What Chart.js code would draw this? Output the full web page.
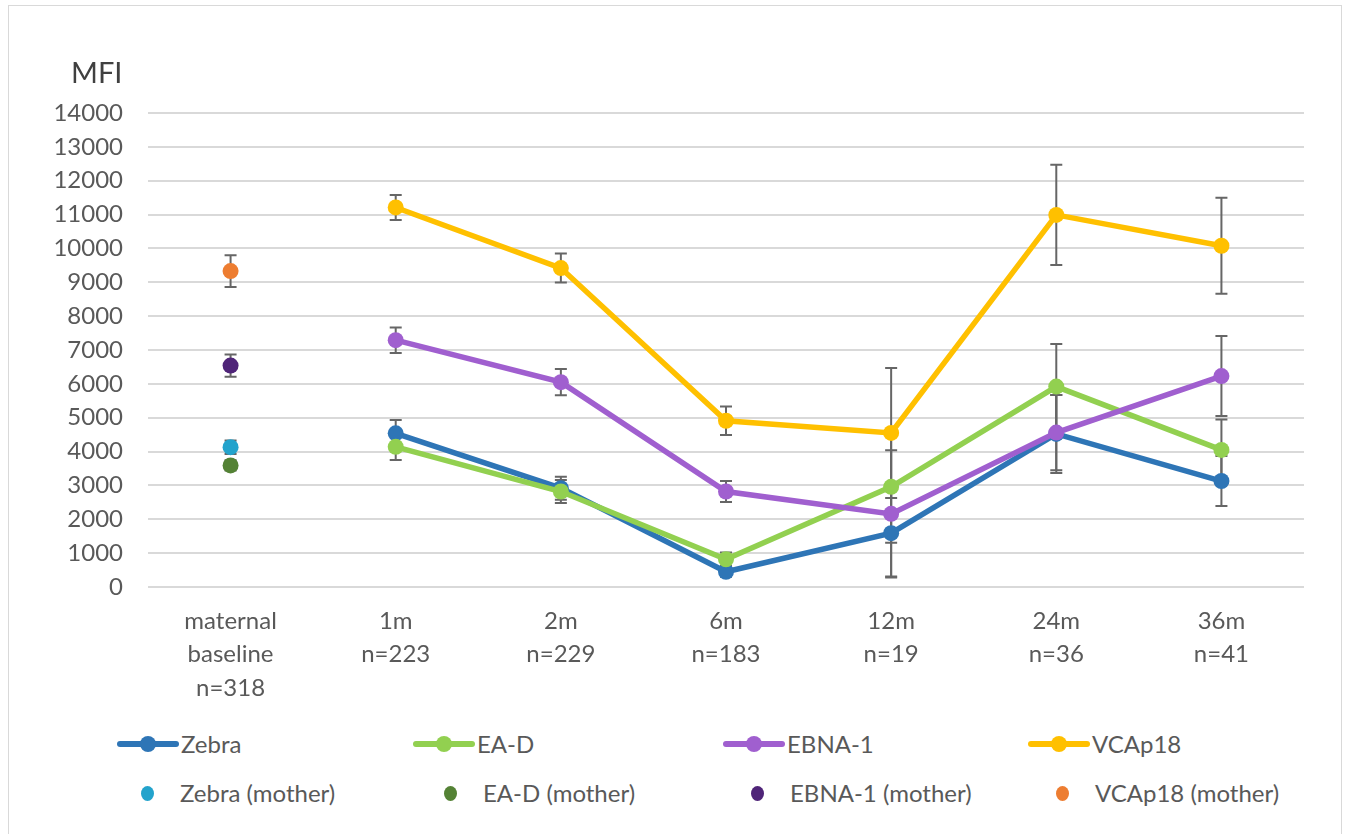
<!DOCTYPE html>
<html>
<head>
<meta charset="utf-8">
<script src="https://cdn.jsdelivr.net/npm/chart.js@4.4.1/dist/chart.umd.min.js"></script>
<style>
  body { margin: 0; background: #fff; font-family: Lato, "Open Sans", sans-serif; }
  .frame { position: absolute; left: 8px; top: 5px; width: 1332px; height: 840px; border: 1px solid #d9d9d9; }
  #chart { position: absolute; left: 0; top: 0; }
  .ytitle { position: absolute; left: 71px; top: 54px; font-size: 29px; color: #404040; }
  .legend { position: absolute; color: #595959; font-size: 24px; }
  .item { position: absolute; white-space: nowrap; height: 30px; line-height: 30px; }
  .sw-line { position: absolute; top: 12px; height: 6px; width: 62px; border-radius: 3px; }
  .sw-line i { position: absolute; left: 23px; top: -5px; width: 16px; height: 16px; border-radius: 50%; background: inherit; }
  .sw-dot { position: absolute; top: 8px; width: 13px; height: 15px; border-radius: 50%; }
</style>
</head>
<body>
<div class="frame"></div>
<canvas id="chart" width="1346" height="720"></canvas>
<div class="ytitle">MFI</div>
<div class="legend" id="legend"></div>
<script>
// categories / x labels
var categories = [
  ['maternal', 'baseline', 'n=318'],
  ['1m', 'n=223'],
  ['2m', 'n=229'],
  ['6m', 'n=183'],
  ['12m', 'n=19'],
  ['24m', 'n=36'],
  ['36m', 'n=41']
];

// children series
var zebra     = [null, 4540, 2920, 450, 1590, 4520, 3130];
var zebraErr  = [null, 390, 340, 150, 1280, 1150, 740];
var eaD       = [null, 4140, 2820, 820, 2960, 5920, 4050];
var eaDErr    = [null, 390, 340, 200, 1650, 1260, 900];
var ebna      = [null, 7290, 6050, 2820, 2160, 4560, 6230];
var ebnaErr   = [null, 375, 390, 310, 1880, 1110, 1180];
var vca       = [null, 11210, 9420, 4910, 4550, 10990, 10080];
var vcaErr    = [null, 370, 430, 420, 1920, 1480, 1420];

// mothers (only at maternal baseline)
var zebraM    = [4130, null, null, null, null, null, null];
var zebraMErr = [200];
var eaDM      = [3590, null, null, null, null, null, null];
var eaDMErr   = [150];
var ebnaM     = [6540, null, null, null, null, null, null];
var ebnaMErr  = [330];
var vcaM      = [9330, null, null, null, null, null, null];
var vcaMErr   = [470];

var yTicks = { min: 0, max: 14000, step: 1000 };

function lineSet(label, data, err, color, order) {
  return {
    label: label, data: data, err: err, order: order,
    borderColor: color, backgroundColor: color,
    borderWidth: 5.5, pointRadius: 8, pointBorderWidth: 0,
    pointBackgroundColor: color, tension: 0, spanGaps: false
  };
}
function dotSet(label, data, err, color) {
  return {
    label: label, data: data, err: err, order: 0, showLine: false,
    borderColor: color, backgroundColor: color,
    pointRadius: 8, pointBorderWidth: 0, pointBackgroundColor: color
  };
}

var errorBars = {
  id: 'errorBars',
  beforeDatasetsDraw: function(chart) {
    var ctx = chart.ctx;
    var y = chart.scales.y;
    ctx.save();
    ctx.strokeStyle = '#666666';
    ctx.lineWidth = 2;
    chart.data.datasets.forEach(function(ds, i) {
      var meta = chart.getDatasetMeta(i);
      ds.data.forEach(function(v, j) {
        if (v == null || ds.err[j] == null) return;
        var x = meta.data[j].x;
        var top = y.getPixelForValue(v + ds.err[j]);
        var bot = y.getPixelForValue(v - ds.err[j]);
        ctx.beginPath();
        ctx.moveTo(x, top); ctx.lineTo(x, bot);
        ctx.moveTo(x - 6, top); ctx.lineTo(x + 6, top);
        ctx.moveTo(x - 6, bot); ctx.lineTo(x + 6, bot);
        ctx.stroke();
      });
    });
    ctx.restore();
  }
};

var ctx = document.getElementById('chart').getContext('2d');
var chart = new Chart(ctx, {
  type: 'line',
  data: {
    labels: categories,
    datasets: [
      lineSet('Zebra', zebra, zebraErr, '#2E75B6', 4),
      lineSet('EA-D', eaD, eaDErr, '#92D050', 3),
      lineSet('EBNA-1', ebna, ebnaErr, '#A05FCF', 2),
      lineSet('VCAp18', vca, vcaErr, '#FFC000', 1),
      dotSet('Zebra (mother)', zebraM, zebraMErr, '#23A3CC'),
      dotSet('EA-D (mother)', eaDM, eaDMErr, '#548235'),
      dotSet('EBNA-1 (mother)', ebnaM, ebnaMErr, '#4F2478'),
      dotSet('VCAp18 (mother)', vcaM, vcaMErr, '#ED7D31')
    ]
  },
  options: {
    responsive: false,
    animation: false,
    layout: { padding: { top: 113, right: 42, left: 0, bottom: 0 } },
    plugins: { legend: { display: false }, tooltip: { enabled: false } },
    scales: {
      x: {
        offset: true,
        grid: { display: false, drawTicks: false },
        border: { display: false },
        ticks: {
          color: '#595959', padding: 18, maxRotation: 0, autoSkip: false,
          font: { family: 'Lato', size: 24, lineHeight: 1.38 }
        },
        afterFit: function(s) { s.height = 133; }
      },
      y: {
        min: yTicks.min, max: yTicks.max,
        grid: { color: '#d9d9d9', lineWidth: 2, drawTicks: false },
        border: { display: false },
        ticks: {
          stepSize: yTicks.step, color: '#595959', padding: 25,
          font: { family: 'Lato', size: 24 },
          callback: function(v) { return String(v); }
        },
        afterFit: function(s) { s.width = 148; }
      }
    }
  },
  plugins: [errorBars]
});

// legend (html)
var legendRows = [
  { top: 729, kind: 'line', idx: [0, 1, 2, 3], lefts: [117, 413, 723, 1028] },
  { top: 778, kind: 'dot', idx: [4, 5, 6, 7], lefts: [141, 444, 751, 1056] }
];
var legendEl = document.getElementById('legend');
legendRows.forEach(function(row) {
  row.idx.forEach(function(di, k) {
    var ds = chart.data.datasets[di];
    var item = document.createElement('div');
    item.className = 'item';
    item.style.top = row.top + 'px';
    item.style.left = row.lefts[k] + 'px';
    var sw = document.createElement('span');
    var txt = document.createElement('span');
    txt.textContent = ds.label;
    txt.style.position = 'absolute';
    if (row.kind === 'line') {
      sw.className = 'sw-line';
      sw.style.background = ds.borderColor;
      sw.appendChild(document.createElement('i'));
      txt.style.left = '64px';
    } else {
      sw.className = 'sw-dot';
      sw.style.background = ds.borderColor;
      sw.style.left = '0px';
      txt.style.left = '39px';
    }
    item.appendChild(sw);
    item.appendChild(txt);
    legendEl.appendChild(item);
  });
});
</script>
</body>
</html>
